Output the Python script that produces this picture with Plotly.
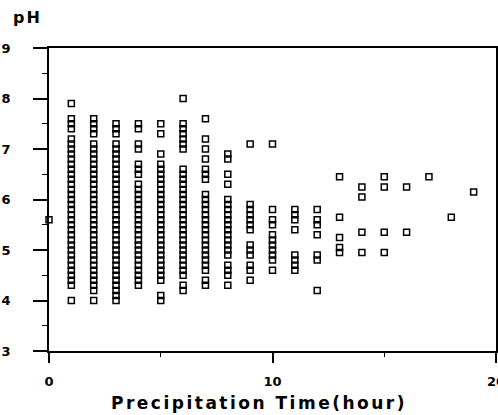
import plotly.graph_objects as go

# pH readings grouped by precipitation time (hour)
ph_h0 = [5.6]
ph_h1 = [7.9, 7.6, 7.5, 7.4, 7.2, 7.1, 7.0, 6.9, 6.8, 6.7, 6.6, 6.5, 6.4, 6.3, 6.2, 6.1,
         6.0, 5.9, 5.8, 5.7, 5.6, 5.5, 5.4, 5.3, 5.2, 5.1, 5.0, 4.9, 4.8, 4.7, 4.6, 4.5,
         4.4, 4.3, 4.0]
ph_h2 = [7.6, 7.5, 7.4, 7.3, 7.1, 7.0, 6.9, 6.8, 6.7, 6.6, 6.5, 6.4, 6.3, 6.2, 6.1, 6.0,
         5.9, 5.8, 5.7, 5.6, 5.5, 5.4, 5.3, 5.2, 5.1, 5.0, 4.9, 4.8, 4.7, 4.6, 4.5, 4.4,
         4.3, 4.2, 4.0]
ph_h3 = [7.5, 7.4, 7.3, 7.1, 7.0, 6.9, 6.8, 6.7, 6.6, 6.5, 6.4, 6.3, 6.2, 6.1, 6.0, 5.9,
         5.8, 5.7, 5.6, 5.5, 5.4, 5.3, 5.2, 5.1, 5.0, 4.9, 4.8, 4.7, 4.6, 4.5, 4.4, 4.3,
         4.2, 4.1, 4.0]
ph_h4 = [7.5, 7.4, 7.1, 7.0, 6.7, 6.6, 6.5, 6.3, 6.2, 6.1, 6.0, 5.9, 5.8, 5.7, 5.6, 5.5,
         5.4, 5.3, 5.2, 5.1, 5.0, 4.9, 4.8, 4.7, 4.6, 4.5, 4.4, 4.3]
ph_h5 = [7.5, 7.3, 6.9, 6.7, 6.6, 6.5, 6.4, 6.3, 6.2, 6.1, 6.0, 5.9, 5.8, 5.7, 5.6, 5.5,
         5.4, 5.3, 5.2, 5.1, 5.0, 4.9, 4.8, 4.7, 4.6, 4.5, 4.4, 4.1, 4.0]
ph_h6 = [8.0, 7.5, 7.4, 7.3, 7.2, 7.1, 7.0, 6.6, 6.5, 6.4, 6.3, 6.2, 6.1, 6.0, 5.9, 5.8,
         5.7, 5.6, 5.5, 5.4, 5.3, 5.2, 5.1, 5.0, 4.9, 4.8, 4.7, 4.6, 4.5, 4.3, 4.2]
ph_h7 = [7.6, 7.2, 7.0, 6.8, 6.6, 6.5, 6.4, 6.1, 6.0, 5.9, 5.8, 5.7, 5.6, 5.5, 5.4, 5.3,
         5.2, 5.1, 5.0, 4.9, 4.8, 4.7, 4.6, 4.4, 4.3]
ph_h8 = [6.9, 6.8, 6.5, 6.3, 6.0, 5.9, 5.8, 5.7, 5.6, 5.5, 5.4, 5.3, 5.2, 5.1, 5.0, 4.9,
         4.7, 4.6, 4.5, 4.3]
ph_h9 = [7.1, 5.9, 5.8, 5.7, 5.6, 5.5, 5.4, 5.1, 5.0, 4.9, 4.7, 4.6, 4.4]
ph_h10 = [7.1, 5.8, 5.6, 5.5, 5.3, 5.2, 5.1, 5.0, 4.9, 4.8, 4.6]
ph_h11 = [5.8, 5.7, 5.6, 5.4, 4.9, 4.8, 4.7, 4.6]
ph_h12 = [5.8, 5.6, 5.5, 5.3, 4.9, 4.8, 4.2]
ph_h13 = [6.45, 5.65, 5.25, 5.05, 4.95]
ph_h14 = [6.25, 6.05, 5.35, 4.95]
ph_h15 = [6.45, 6.25, 5.35, 4.95]
ph_h16 = [6.25, 5.35]
ph_h17 = [6.45]
ph_h18 = [5.65]
ph_h19 = [6.15]

hours = list(range(20))
groups = [ph_h0, ph_h1, ph_h2, ph_h3, ph_h4, ph_h5, ph_h6, ph_h7, ph_h8, ph_h9,
          ph_h10, ph_h11, ph_h12, ph_h13, ph_h14, ph_h15, ph_h16, ph_h17, ph_h18, ph_h19]

xs, ys = [], []
for h, vals in zip(hours, groups):
    for v in vals:
        xs.append(h)
        ys.append(v)

x_tick_vals = [0, 10, 20]
x_tick_text = ["0", "10", "20"]
y_tick_vals = [3, 4, 5, 6, 7, 8, 9]
y_tick_text = ["3", "4", "5", "6", "7", "8", "9"]

fig = go.Figure()
fig.add_trace(go.Scatter(
    x=xs, y=ys, mode="markers",
    marker=dict(symbol="square-open", size=6, color="black",
                line=dict(width=1.5, color="black")),
    cliponaxis=False, showlegend=False,
))

tick_font = dict(family="DejaVu Sans", size=13, color="black", weight="bold")

fig.update_layout(
    width=498, height=415,
    margin=dict(l=49, r=2, t=48, b=64),
    paper_bgcolor="white", plot_bgcolor="white",
    xaxis=dict(range=[0, 20], tickvals=x_tick_vals, ticktext=x_tick_text,
               ticks="outside", ticklen=10, tickwidth=1.5, tickcolor="black",
               showline=True, linecolor="black", linewidth=1.5, mirror=True,
               showgrid=False, zeroline=False, tickfont=tick_font,
               ticklabelstandoff=8, ticklabeloverflow="allow", automargin=False,
               minor=dict(tickvals=[5, 15], ticks="outside", ticklen=4,
                          tickwidth=1.2, tickcolor="black")),
    yaxis=dict(range=[3, 9], tickvals=y_tick_vals, ticktext=y_tick_text,
               ticks="outside", ticklen=14, tickwidth=1.5, tickcolor="black",
               showline=True, linecolor="black", linewidth=1.5, mirror=True,
               showgrid=False, zeroline=False, tickfont=tick_font,
               ticklabelstandoff=20, automargin=False,
               minor=dict(tickvals=[3.5, 4.5, 5.5, 6.5, 7.5, 8.5], ticks="outside",
                          ticklen=5, tickwidth=1.2, tickcolor="black")),
    annotations=[
        dict(text="<span style='letter-spacing:2.5px'>Precipitation Time(hour)</span>",
             xref="paper", yref="paper",
             x=0.47, y=-0.172, xanchor="center", yanchor="middle", showarrow=False,
             font=dict(family="DejaVu Sans", size=17, color="black", weight="bold")),
        dict(text="<span style='letter-spacing:2px'>pH</span>", xref="paper", yref="paper",
             x=-0.085, y=1.102, xanchor="left", yanchor="middle", showarrow=False,
             font=dict(family="DejaVu Sans", size=16, color="black", weight="bold")),
    ],
)

fig.write_html("out.html")
